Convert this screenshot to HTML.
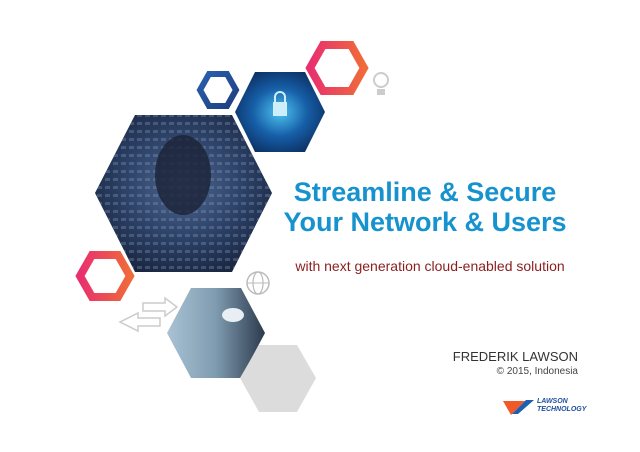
<!DOCTYPE html>
<html><head><style>
body{margin:0;width:640px;height:452px;background:#fff;position:relative;overflow:hidden;font-family:"Liberation Sans",sans-serif}
.t{position:absolute;white-space:nowrap}
</style></head><body>
<svg width="640" height="452" style="position:absolute;left:0;top:0">
<defs>
<linearGradient id="rg" x1="0" y1="0" x2="1" y2="0"><stop offset="0" stop-color="#e8306f"/><stop offset="1" stop-color="#f06a3a"/></linearGradient>
<linearGradient id="bg" x1="0" y1="0" x2="1" y2="1"><stop offset="0" stop-color="#2a5fae"/><stop offset="1" stop-color="#1e3f80"/></linearGradient>
<radialGradient id="hk" cx="0.5" cy="0.45" r="0.6"><stop offset="0" stop-color="#4d6690"/><stop offset="0.6" stop-color="#2b3f63"/><stop offset="1" stop-color="#1a2640"/></radialGradient>
<radialGradient id="lk" cx="0.5" cy="0.5" r="0.6"><stop offset="0" stop-color="#4fc4f0"/><stop offset="0.5" stop-color="#165fa8"/><stop offset="1" stop-color="#0b2a5a"/></radialGradient>
<linearGradient id="cl" x1="0" y1="0" x2="1" y2="0"><stop offset="0" stop-color="#a9c2d4"/><stop offset="0.5" stop-color="#7f9bb0"/><stop offset="1" stop-color="#2c3a4c"/></linearGradient>
<pattern id="bits" width="8" height="8" patternUnits="userSpaceOnUse"><rect width="8" height="8" fill="none"/><rect x="1" y="2" width="5" height="3" fill="#7f97c0" opacity="0.35"/></pattern>
</defs>
<polygon points="95,193 135,115 232,115 272,193 232,272 135,272" fill="url(#hk)"/>
<polygon points="95,193 135,115 232,115 272,193 232,272 135,272" fill="url(#bits)"/>
<ellipse cx="183" cy="175" rx="28" ry="40" fill="#1a2236" opacity="0.8"/>
<polygon points="235,112 255,72 305,72 325,112 305,152 255,152" fill="url(#lk)"/>
<rect x="273" y="102" width="14" height="14" fill="#cfeefc"/>
<path d="M275,102 v-5 a5,5 0 0 1 10,0 v5" stroke="#cfeefc" stroke-width="2" fill="none"/>
<polygon points="200,90 209,74 227,74 236,90 227,106 209,106" fill="none" stroke="url(#bg)" stroke-width="6"/>
<polygon points="310,68 323,45 351,45 364,68 351,91 323,91" fill="none" stroke="url(#rg)" stroke-width="8"/>
<polygon points="80,276 92,255 118,255 130,276 118,297 92,297" fill="none" stroke="url(#rg)" stroke-width="8"/>
<circle cx="381" cy="80" r="7" fill="none" stroke="#ccc" stroke-width="2"/>
<rect x="377" y="89" width="8" height="6" fill="#ccc"/>
<circle cx="258" cy="283" r="11" fill="none" stroke="#bbb" stroke-width="1.5"/>
<ellipse cx="258" cy="283" rx="5" ry="11" fill="none" stroke="#bbb" stroke-width="1.2"/>
<line x1="247" y1="283" x2="269" y2="283" stroke="#bbb"/>
<path d="M143,303 h22 v-5 l12,9 -12,9 v-5 h-22z" fill="none" stroke="#ccc" stroke-width="1.5"/>
<path d="M160,318 h-22 v-5 l-18,9 18,9 v-5 h22z" fill="none" stroke="#ccc" stroke-width="1.5"/>
<polygon points="167,333 191,288 241,288 265,333 241,378 191,378" fill="url(#cl)"/>
<ellipse cx="233" cy="315" rx="11" ry="7" fill="#e8eef4"/>
<polygon points="240,378 259,345 297,345 316,378 297,412 259,412" fill="#dcdcdc"/>
<path d="M503,401 h22 l-14,14 z" fill="#f05a28"/>
<path d="M512,414 l14,-14 h8 l-16,14z" fill="#1f5fb0"/>
</svg>
<div class="t" style="left:225px;top:177px;width:400px;text-align:center;font-size:27px;font-weight:bold;color:#1692cf;line-height:30px">Streamline &amp; Secure<br>Your Network &amp; Users</div>
<div class="t" style="left:230px;top:258px;width:400px;text-align:center;font-size:14px;color:#8b1e1e">with next generation cloud-enabled solution</div>
<div class="t" style="right:62px;top:349px;font-size:13px;color:#333">FREDERIK LAWSON</div>
<div class="t" style="right:62px;top:366px;font-size:10px;color:#444">© 2015, Indonesia</div>
<div class="t" style="left:537px;top:398px;font-size:7px;font-style:italic;font-weight:bold;color:#1f4f9a;line-height:8px">LAWSON<br>TECHNOLOGY</div>
</body></html>
